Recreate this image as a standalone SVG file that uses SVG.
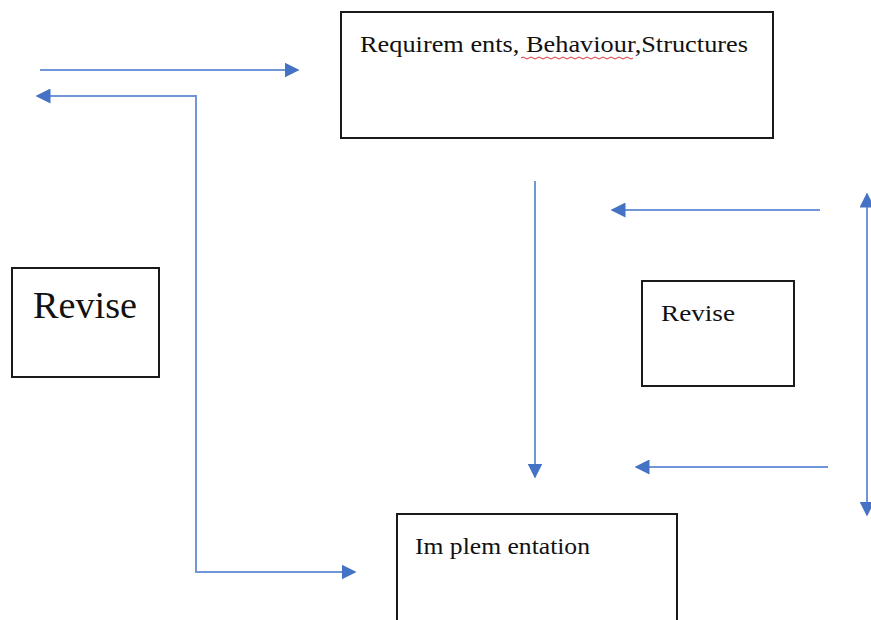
<svg xmlns="http://www.w3.org/2000/svg" width="871" height="620" viewBox="0 0 871 620">
<style>
.box{fill:#fff;stroke:#1a1a1a;stroke-width:2}
.lbl{font-family:"Liberation Serif","Times New Roman",serif;fill:#111}
.con{fill:none;stroke:#7196d8;stroke-width:2}
</style>
<defs>
<marker id="ah" viewBox="0 0 10 10" refX="9" refY="5" markerWidth="7.5" markerHeight="7.5" orient="auto-start-reverse" markerUnits="strokeWidth">
<path d="M0,0 L10,5 L0,10 z" fill="#4472c4"/>
</marker>
</defs>
<rect width="871" height="620" fill="#fff"/>
<g id="connectors">
<path class="con" d="M40,70 H298" marker-end="url(#ah)"/>
<path class="con" d="M355,572 H196 V96 H37" marker-start="url(#ah)" marker-end="url(#ah)"/>
<path class="con" d="M535,181 V477" marker-end="url(#ah)"/>
<path class="con" d="M820,210 H612" marker-end="url(#ah)"/>
<path class="con" d="M828,467 H636" marker-end="url(#ah)"/>
<path class="con" d="M867,194 V515" marker-start="url(#ah)" marker-end="url(#ah)"/>
</g>
<g id="req">
<rect class="box" x="341" y="12" width="432" height="126"/>
<text class="lbl" x="360" y="52" font-size="23" textLength="388" lengthAdjust="spacingAndGlyphs">Requirem ents, Behaviour,Structures</text>
<path d="M521,58 q2,-2 4,0 t4,0 t4,0 t4,0 t4,0 t4,0 t4,0 t4,0 t4,0 t4,0 t4,0 t4,0 t4,0 t4,0 t4,0 t4,0 t4,0 t4,0 t4,0 t4,0 t4,0 t4,0 t4,0 t4,0 t4,0 t4,0 t4,0 t4,0" fill="none" stroke="#e03030" stroke-width="1"/>
</g>
<g id="revise-left">
<rect class="box" x="12" y="268" width="147" height="109"/>
<text class="lbl" x="33" y="318" font-size="37" textLength="104" lengthAdjust="spacingAndGlyphs">Revise</text>
</g>
<g id="revise-right">
<rect class="box" x="642" y="281" width="152" height="105"/>
<text class="lbl" x="661" y="321" font-size="23" textLength="74" lengthAdjust="spacingAndGlyphs">Revise</text>
</g>
<g id="impl">
<rect class="box" x="397" y="514" width="280" height="120"/>
<text class="lbl" x="415" y="554" font-size="23" textLength="175" lengthAdjust="spacingAndGlyphs">Im plem entation</text>
</g>
</svg>
